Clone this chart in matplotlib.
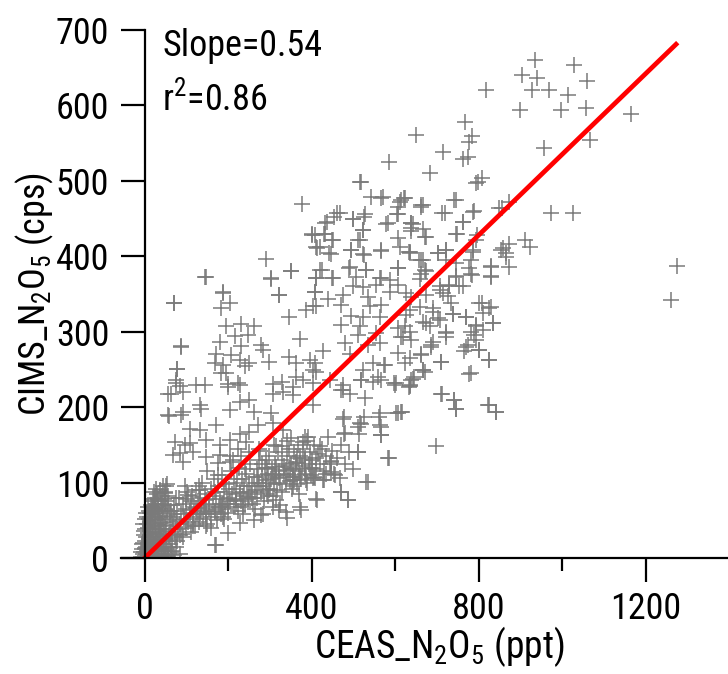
import numpy as np
import matplotlib
matplotlib.use("Agg")
import matplotlib.pyplot as plt

plt.rcParams['font.family'] = ['Roboto Condensed', 'Liberation Sans', 'DejaVu Sans']
plt.rcParams['mathtext.fontset'] = 'custom'
plt.rcParams['mathtext.rm'] = 'Roboto Condensed'
plt.rcParams['mathtext.it'] = 'Roboto Condensed:italic'

# dense cluster near the origin
cluster_x = [-8, -5, -3, -2, 0, 1, 2, 3, 4, 5, 6, 7, 8, 9, 10, 11, 12, 13, 14, 15, 16, 17, 18, 19, 20,
             21, 22, 23, 24, 25, 26, 27, 28, 29, 30, 31, 32, 33, 34, 35, 36, 37, 38, 39, 40, 41, 42, 43,
             44, 45, 46, 47, 48, 49, 50, 52, 54, 55, 57, 58, 60, 62, 63, 65, -6, -4, -1, 2, 5, 8, 10, 12,
             14, 16, 18, 20, 22, 24, 26, 28, 30, -9, -7, 0, 3, 6, 9, 11, 13, 15, 17, 19, 21, 23, 25, 27,
             29, 31, 33, 35, 37, 39, 41, 43, 45, 47, 49, 51, 53, 55, 44, 48, 52, 56, 60, 66, 70, -3, 1,
             4, 7, -2, 0, 34, 38]
cluster_y = [2, 5, 1, 8, 3, 12, 0, 6, 15, 2, 9, 20, 4, 13, 25, 7, 17, 30, 1, 10, 22, 35, 5, 14, 28,
             40, 8, 18, 33, 45, 12, 24, 38, 3, 16, 50, 28, 9, 42, 20, 55, 32, 14, 47, 25, 6, 60, 36,
             18, 52, 30, 10, 44, 65, 22, 38, 56, 15, 70, 30, 48, 8, 62, 25, 12, 20, 30, 38, 45, 33, 52, 42,
             60, 50, 68, 58, 75, 65, 80, 72, 85, 8, 18, 22, 28, 55, 40, 63, 48, 70, 57, 78, 66, 88, 55, 92,
             62, 70, 78, 62, 90, 72, 82, 95, 68, 78, 88, 75, 98, 82, 3, 5, 12, 3, 18, 10, 4, 45, 52,
             60, 68, 36, 14, 2, 38]

# main low band
band_x = [62, 65, 68, 70, 72, 75, 78, 80, 82, 85, 88, 90, 92, 95, 98, 100, 102, 105, 108, 110, 112,
          115, 118, 120, 122, 125, 128, 130, 133, 135, 138, 140, 143, 145, 148, 150, 153, 155, 158, 160,
          163, 165, 168, 170, 173, 175, 178, 180, 183, 185, 188, 190, 193, 195, 198, 200, 203, 205, 208,
          210, 213, 215, 218, 220, 223, 225, 228, 230, 233, 235, 238, 240, 243, 245, 248, 250, 253, 255,
          258, 260, 263, 265, 268, 270, 273, 275, 278, 280, 283, 285, 288, 290, 293, 295, 298, 300, 303,
          305, 308, 310, 313, 315, 318, 320, 323, 325, 328, 330, 333, 335, 338, 340, 343, 345, 348, 350,
          353, 355, 358, 360, 363, 365, 368, 370, 373, 375, 378, 380, 383, 385, 388, 390, 393, 395, 398,
          400, 405, 410, 415, 420, 425, 430, 435, 440, 445, 450, 455, 460, 470, 480, 490, 500]
band_y = [35, 55, 42, 70, 28, 50, 62, 38, 80, 45, 58, 32, 72, 52, 40, 65, 88, 48, 60, 35, 75,
          55, 68, 42, 90, 58, 72, 48, 80, 62, 100, 52, 70, 85, 58, 45, 78, 65, 92, 55,
          72, 105, 62, 82, 50, 95, 68, 78, 58, 110, 72, 88, 65, 98, 80, 60, 92, 75, 115,
          85, 68, 100, 78, 92, 62, 120, 88, 75, 105, 82, 95, 70, 112, 88, 78, 100, 125, 85,
          95, 72, 108, 90, 118, 80, 100, 130, 88, 110, 95, 75, 120, 100, 85, 112, 135, 92, 105,
          118, 82, 98, 125, 108, 90, 140, 115, 100, 130, 88, 110, 122, 98, 135, 112, 145, 102, 125,
          92, 118, 140, 108, 128, 98, 150, 115, 135, 105, 122, 145, 112, 132, 100, 155, 125, 140, 110,
          130, 150, 118, 138, 125, 145, 115, 135, 160, 125, 142, 110, 132, 150, 125, 140, 118]

# extra points filling the band
band2_x = [70, 85, 100, 115, 130, 145, 160, 175, 190, 205, 220, 235, 250, 265, 280, 295, 310, 325,
           340, 355, 370, 385, 60, 78, 96, 114, 132, 150, 168, 186, 204, 222, 240, 258, 276, 294,
           312, 330, 348, 366, 384, 402, 420]
band2_y = [58, 30, 78, 45, 95, 68, 40, 110, 52, 128, 72, 58, 140, 65, 125, 82, 150, 70, 155, 108,
           85, 118, 62, 22, 95, 82, 60, 115, 88, 70, 135, 105, 118, 80, 142, 120, 110, 148, 120, 132,
           160, 120, 148]

# scattered points, lower/middle part
mid_x = [64, 92, 76, 124, 144, 199, 228, 251, 228, 132, 56, 92, 136, 204, 263, 307, 331, 355, 403,
         303, 108, 132, 172, 228, 271, 251, 307, 331, 351, 391, 379, 72, 96, 108, 148, 180, 204, 244,
         223, 275, 315, 68, 84, 116, 148, 180, 211, 232, 176, 92, 291, 315, 363, 383, 395, 52, 48, 76,
         104, 132, 148, 108, 124, 148, 168, 184, 188, 199, 220, 228, 235, 251, 268, 271, 291, 307, 299,
         323, 339, 355, 371, 387, 403, 355, 315, 283, 307, 339, 371, 263, 228, 199, 168, 148, 116, 92,
         76, 84, 446, 470, 486, 414, 534, 510, 586, 342, 374, 323, 279, 171, 430, 454, 406, 358, 526,
         478, 510, 478, 566, 602, 518, 562, 614, 566, 470, 518, 558, 598, 634, 646, 574, 666, 59, 55, 87]
mid_y = [218, 220, 232, 229, 229, 231, 229, 209, 207, 203, 190, 193, 197, 196, 194, 218, 220, 216, 232,
         192, 171, 170, 176, 165, 176, 167, 179, 170, 159, 161, 154, 154, 150, 152, 156, 150, 156, 154,
         145, 145, 148, 137, 139, 141, 134, 137, 130, 135, 126, 128, 130, 121, 126, 130, 119, 95, 86, 79,
         84, 90, 77, 64, 66, 59, 61, 68, 55, 72, 77, 86, 68, 81, 95, 108, 103, 112, 90,
         106, 117, 103, 110, 103, 106, 95, 77, 59, 68, 61, 68, 50, 46, 33, 17, 42, 42, 28,
         15, 6, 128, 88, 77, 77, 101, 141, 132, 53, 64, 64, 57, 17, 103, 112, 108, 103, 187,
         187, 174, 165, 174, 192, 178, 187, 194, 163, 223, 236, 240, 232, 227, 240, 256, 249, 188, 218, 190]

# right side, below the fit line
low_right_x = [713, 742, 746, 824, 842, 699, 563, 607, 475, 515, 479, 513, 563, 567, 511, 583, 447,
               411, 447, 435, 467, 407, 427, 531, 471, 487, 411, 491, 527, 475, 599, 635, 403,
               802, 826, 810, 834, 794, 782, 810, 794, 774, 766, 802, 825, 711, 778, 663, 635, 667,
               643, 635, 711, 742, 746, 822, 842, 617, 735, 738, 770, 723, 690, 639, 687, 707, 675,
               659, 690, 714, 754, 627, 623, 627, 619]
low_right_y = [217, 209, 198, 203, 193, 148, 192, 192, 185, 179, 166, 165, 176, 163, 141, 132, 129,
               132, 114, 112, 106, 106, 103, 101, 88, 77, 78, 218, 212, 223, 229, 229, 203,
               338, 331, 325, 312, 309, 300, 302, 289, 282, 274, 276, 262, 260, 244, 271, 265, 249,
               238, 228, 218, 210, 198, 203, 193, 194, 338, 324, 320, 298, 287, 289, 280, 316, 311,
               333, 326, 351, 360, 322, 307, 351, 293]

# upper-left scatter
upper_x = [378, 401, 411, 290, 351, 302, 145, 411, 188, 407, 322, 70, 204, 182, 410, 387, 345, 194,
           232, 263, 247, 216, 371, 88, 180, 232, 279, 283, 172, 208, 228, 251, 168, 188, 299, 346,
           363, 395, 77, 184, 196, 240, 363, 403, 379, 74, 307, 330, 223, 84, 199, 355, 71, 323, 187,
           87, 77, 586, 518, 570, 614, 662, 436, 462, 498, 526, 578, 604, 642, 402, 430, 450, 522,
           510, 606, 638, 666, 414, 442, 494, 526, 566, 634, 658, 350, 302, 147, 426, 450, 490, 530,
           566, 606, 662]
upper_y = [469, 429, 413, 396, 380, 370, 372, 371, 353, 353, 349, 338, 338, 332, 334, 329, 319, 307,
           310, 308, 296, 295, 291, 281, 286, 281, 282, 276, 271, 269, 262, 259, 258, 256, 260, 266,
           258, 262, 250, 245, 245, 254, 240, 249, 236, 236, 231, 234, 232, 228, 227, 227, 338, 349, 351,
           280, 250, 525, 498, 479, 475, 468, 445, 458, 450, 452, 443, 456, 443, 428, 430, 422, 435,
           422, 424, 437, 436, 411, 404, 408, 402, 408, 406, 395, 381, 371, 373, 382, 371, 384, 382,
           371, 384, 377]

# middle of the cloud, around the fit line
core_x = [517, 798, 543, 567, 611, 621, 607, 667, 746, 467, 453, 499, 527, 607, 719, 786, 857, 433,
          583, 639, 762, 523, 639, 746, 407, 431, 451, 675, 794, 515, 419, 495, 611, 858, 447, 523,
          567, 635, 703, 723, 786, 667, 723, 746, 782, 866, 419, 491, 531, 607, 671, 830, 778, 411,
          451, 507, 563, 587, 659, 746, 785, 830, 499, 523, 555, 607, 587, 707, 730, 762, 407, 439,
          475, 535, 639, 675, 726, 403, 471, 539, 567, 807, 830, 690, 635, 738, 495, 523, 563, 667,
          703, 770, 834, 471, 515, 607, 683, 723, 794, 511, 555, 615, 635, 790, 723, 479, 535, 563,
          687, 770, 802, 427, 491, 607, 663, 711, 826, 407, 547, 575, 623, 411, 523, 671, 782, 443,
          519, 567, 603, 639, 475, 547]
core_y = [499, 499, 479, 477, 472, 477, 466, 468, 475, 457, 452, 450, 456, 456, 458, 459, 464, 444,
          444, 444, 446, 435, 434, 430, 428, 430, 422, 426, 422, 422, 413, 409, 413, 411, 403, 403,
          407, 406, 404, 408, 406, 395, 395, 391, 395, 404, 382, 386, 382, 384, 382, 386, 384, 371,
          371, 373, 371, 369, 370, 373, 375, 373, 360, 359, 362, 362, 353, 355, 360, 360, 353, 344,
          349, 346, 346, 349, 347, 334, 335, 334, 335, 338, 333, 331, 329, 324, 321, 320, 320, 313,
          318, 320, 311, 309, 307, 305, 307, 300, 307, 296, 298, 293, 300, 296, 293, 285, 282, 285,
          282, 280, 276, 274, 271, 272, 269, 260, 262, 258, 258, 256, 258, 246, 249, 247, 245, 236,
          236, 236, 232, 236, 229, 234]

# top and far-right points
outer_x = [936, 1028, 904, 940, 1060, 818, 929, 968, 1015, 900, 998, 1058, 1165, 1068, 956, 768, 651,
           785, 778, 714, 762, 774, 684, 809, 794, 974, 1027, 1276, 1261, 742, 713, 663, 788, 850, 872,
           639, 762, 671, 748, 797, 623, 723, 703, 635, 663, 786, 854, 873, 866, 910, 924, 830, 873,
           830, 782, 746, 730, 675, 707]
outer_y = [660, 653, 641, 636, 633, 621, 620, 621, 614, 594, 594, 597, 589, 554, 544, 578, 561,
           559, 551, 538, 529, 531, 510, 504, 497, 457, 457, 387, 342, 475, 458, 466, 460, 464, 472,
           444, 446, 426, 430, 428, 477, 408, 404, 404, 395, 408, 408, 416, 399, 421, 413, 387, 386,
           374, 377, 374, 362, 380, 360]

fit_slope = 0.535
fit_intercept = 0.0
fit_xmax = 1273

ceas = np.concatenate([cluster_x, band_x, band2_x, mid_x, low_right_x, upper_x, core_x, outer_x])
cims = np.concatenate([cluster_y, band_y, band2_y, mid_y, low_right_y, upper_y, core_y, outer_y])

fig = plt.figure(figsize=(7.28, 6.74), dpi=100)
ax = fig.add_axes([0.166, 0.172, 0.832, 0.7835])

ax.plot(ceas, cims, linestyle='none', marker='+', markersize=11, markeredgewidth=1.1,
        color='#7a7a7a')
fx = np.array([0, fit_xmax])
ax.plot(fx, fit_slope * fx + fit_intercept, color='#ff0000', linewidth=3.4)

ax.set_xlim(-57, 1394)
ax.set_ylim(0, 700)
ax.spines['left'].set_position(('data', 0))
ax.spines['top'].set_visible(False)
ax.spines['right'].set_visible(False)
for s in ['left', 'bottom']:
    ax.spines[s].set_linewidth(1.6)

ax.set_xticks([0, 400, 800, 1200])
ax.set_xticks([200, 600, 1000], minor=True)
ax.set_yticks(np.arange(0, 701, 100))
ax.tick_params(axis='both', which='major', direction='out', length=17.5, width=1.6,
               labelsize=26)
ax.tick_params(axis='x', which='minor', direction='out', length=9, width=1.6)
ax.tick_params(axis='x', which='major', pad=6)
ax.tick_params(axis='y', which='major', pad=8)

ax.set_xlabel('CEAS_N$_2$O$_5$ (ppt)', fontsize=27)
ax.xaxis.set_label_coords(0.526, -0.125)
ax.set_ylabel('CIMS_N$_2$O$_5$ (cps)', fontsize=26, labelpad=0)

ax.text(0.068, 0.95, 'Slope=0.54', transform=ax.transAxes, fontsize=26, va='baseline')
ax.text(0.068, 0.848, 'r$^2$=0.86', transform=ax.transAxes, fontsize=26, va='baseline')

fig.savefig('out.png', dpi=100)
